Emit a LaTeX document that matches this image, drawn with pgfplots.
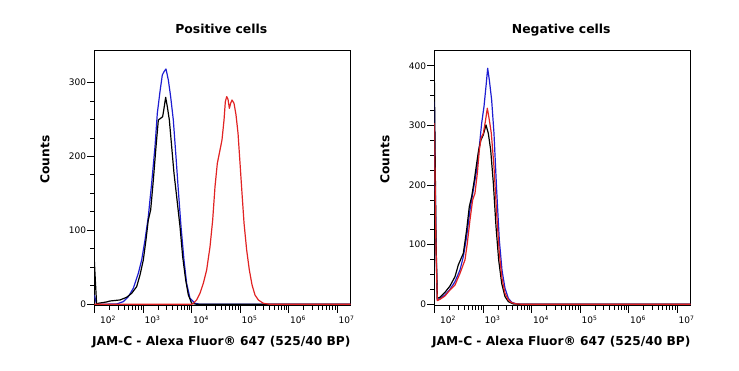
\documentclass[border=0pt]{standalone}
\usepackage{fontspec}
\setmainfont{DejaVu Sans}
\usepackage{pgfplots}
\pgfplotsset{compat=1.18}
\definecolor{fblue}{RGB}{30,30,210}
\definecolor{fred}{RGB}{225,35,35}
\pgfplotsset{flow/.style={
  scale only axis, width=256.4pt, height=255.5pt,
  anchor=south west,
  xmin=1.986, xmax=7.275,
  tick align=outside, tick pos=left,
  major tick length=7pt, minor tick length=4pt,
  tick style={black, line width=1pt},
  axis line style={line width=0.8pt},
  xtick={2,3,4,5,6,7},
  xticklabels={\hspace*{4pt}10\textsuperscript{2},10\textsuperscript{3},10\textsuperscript{4},10\textsuperscript{5},10\textsuperscript{6},10\textsuperscript{7}},
  minor xtick={2.301,2.477,2.602,2.699,2.778,2.845,2.903,2.954,
               3.301,3.477,3.602,3.699,3.778,3.845,3.903,3.954,
               4.301,4.477,4.602,4.699,4.778,4.845,4.903,4.954,
               5.301,5.477,5.602,5.699,5.778,5.845,5.903,5.954,
               6.301,6.477,6.602,6.699,6.778,6.845,6.903,6.954},
  minor y tick num=3,
  ticklabel style={font=\fontsize{9}{10}\selectfont},
  /pgf/number format/assume math mode=true,
  xticklabel style={anchor=north west, inner sep=1pt, yshift=-2pt},
  yticklabel style={anchor=east, inner sep=1pt},
  title style={at={(axis description cs:0.495,1.0419)}, anchor=base, font=\fontsize{12.4}{14}\selectfont\bfseries},
  xlabel style={at={(axis description cs:0.495,-0.1573)}, anchor=base, font=\fontsize{12.2}{14}\selectfont\bfseries},
  ylabel style={at={(axis description cs:-0.1923,0.571)}, anchor=center, font=\fontsize{12.2}{14}\selectfont\bfseries},
  xlabel={JAM-C - Alexa Fluor® 647 (525/40 BP)},
  ylabel={Counts},
  every axis plot/.append style={line width=1.2pt, line join=round},
}}
\begin{document}
\begin{tikzpicture}
\useasboundingbox (0,0) rectangle (739pt,370pt);
\begin{axis}[flow, at={(94.3pt,64.5pt)}, ymin=-1.6, ymax=344.1, ytick={0,100,200,300}, title={Positive cells}]
\addplot[fblue] coordinates {(1.986,12.6) (2.034,0) (2.447,0.5) (2.585,3.6) (2.688,10.4) (2.791,21.7) (2.894,41.9) (2.963,60.0) (3.032,87.1) (3.100,118.6) (3.169,163.7) (3.238,213.4) (3.286,258.5) (3.341,287.8) (3.389,310.3) (3.424,314.8) (3.465,318.4) (3.513,303.6) (3.561,281.0) (3.616,249.4) (3.671,199.8) (3.719,154.7) (3.775,105.1) (3.836,60.0) (3.891,28.4) (3.960,8.1) (4.063,1.4) (4.166,0) (7.275,0)};
\addplot[black] coordinates {(1.986,60.0) (2.007,32.9) (2.034,0) (2.069,1.4) (2.241,3.2) (2.310,4.5) (2.516,5.9) (2.653,9.5) (2.757,14.9) (2.860,23.9) (2.929,39.7) (2.997,60.0) (3.052,87.1) (3.100,114.1) (3.149,127.7) (3.204,168.2) (3.259,213.4) (3.307,249.4) (3.355,251.7) (3.396,253.9) (3.424,265.2) (3.458,280.1) (3.492,267.5) (3.534,249.4) (3.582,213.4) (3.630,177.3) (3.685,145.7) (3.754,105.1) (3.809,64.5) (3.871,32.9) (3.926,12.6) (3.995,1.4) (4.098,0) (7.275,0)};
\addplot[fred] coordinates {(1.986,0) (3.995,0) (4.029,1.4) (4.098,5.9) (4.166,14.9) (4.235,28.4) (4.304,46.5) (4.373,78.0) (4.428,114.1) (4.476,159.2) (4.524,190.8) (4.579,208.8) (4.620,222.4) (4.662,249.4) (4.689,274.2) (4.717,281.0) (4.744,277.4) (4.772,265.2) (4.799,272.0) (4.827,276.5) (4.868,272.0) (4.909,256.4) (4.951,231.4) (4.992,190.8) (5.033,150.2) (5.075,109.6) (5.129,73.5) (5.184,46.5) (5.240,26.2) (5.301,12.6) (5.370,5.9) (5.473,1.4) (5.611,0) (7.275,0)};
\end{axis}
\begin{axis}[flow, at={(434.3pt,64.5pt)}, ymin=-2, ymax=426.7, ytick={0,100,200,300,400}, title={Negative cells}]
\addplot[fblue] coordinates {(1.986,340) (2.021,96.8) (2.048,7.3) (2.103,9.5) (2.206,15.7) (2.310,25.2) (2.413,38.0) (2.516,57.6) (2.585,80.0) (2.653,113.6) (2.722,158.3) (2.791,191.9) (2.860,225.5) (2.915,264.6) (2.963,303.8) (3.011,331.7) (3.052,365.3) (3.087,396.1) (3.121,376.5) (3.169,342.9) (3.217,287.0) (3.272,191.9) (3.327,108.0) (3.382,57.6) (3.444,26.9) (3.513,10.1) (3.582,3.4) (3.685,0.6) (3.823,0) (7.275,0)};
\addplot[black] coordinates {(1.986,387.7) (2.021,108.0) (2.048,10.1) (2.103,11.7) (2.206,20.1) (2.310,30.8) (2.413,46.4) (2.481,66.0) (2.585,85.6) (2.653,124.8) (2.708,163.9) (2.757,180.7) (2.812,208.7) (2.860,236.6) (2.901,259.0) (2.949,275.8) (2.997,284.2) (3.052,301.0) (3.100,287.0) (3.149,259.0) (3.204,203.1) (3.259,130.3) (3.314,74.4) (3.376,35.2) (3.444,12.9) (3.513,4.5) (3.616,0.6) (3.754,0) (7.275,0)};
\addplot[fred] coordinates {(1.986,303.8) (2.021,91.2) (2.048,6.2) (2.103,8.4) (2.206,14.0) (2.310,24.1) (2.413,32.4) (2.516,52.0) (2.619,74.4) (2.667,102.4) (2.722,141.5) (2.777,175.1) (2.825,186.3) (2.874,219.9) (2.915,259.0) (2.949,278.6) (2.997,287.0) (3.039,306.6) (3.080,329.0) (3.121,309.4) (3.162,287.0) (3.217,231.0) (3.272,152.7) (3.327,85.6) (3.382,43.6) (3.444,18.5) (3.513,7.3) (3.582,2.8) (3.685,0.6) (3.823,0) (7.275,0)};
\node[rotate=90, anchor=center, font=\fontsize{8.8}{10}\selectfont] at (axis description cs:1.0441,0.4) {Copyright (c) 2025 Abcam Limited};
\end{axis}
\end{tikzpicture}
\end{document}
